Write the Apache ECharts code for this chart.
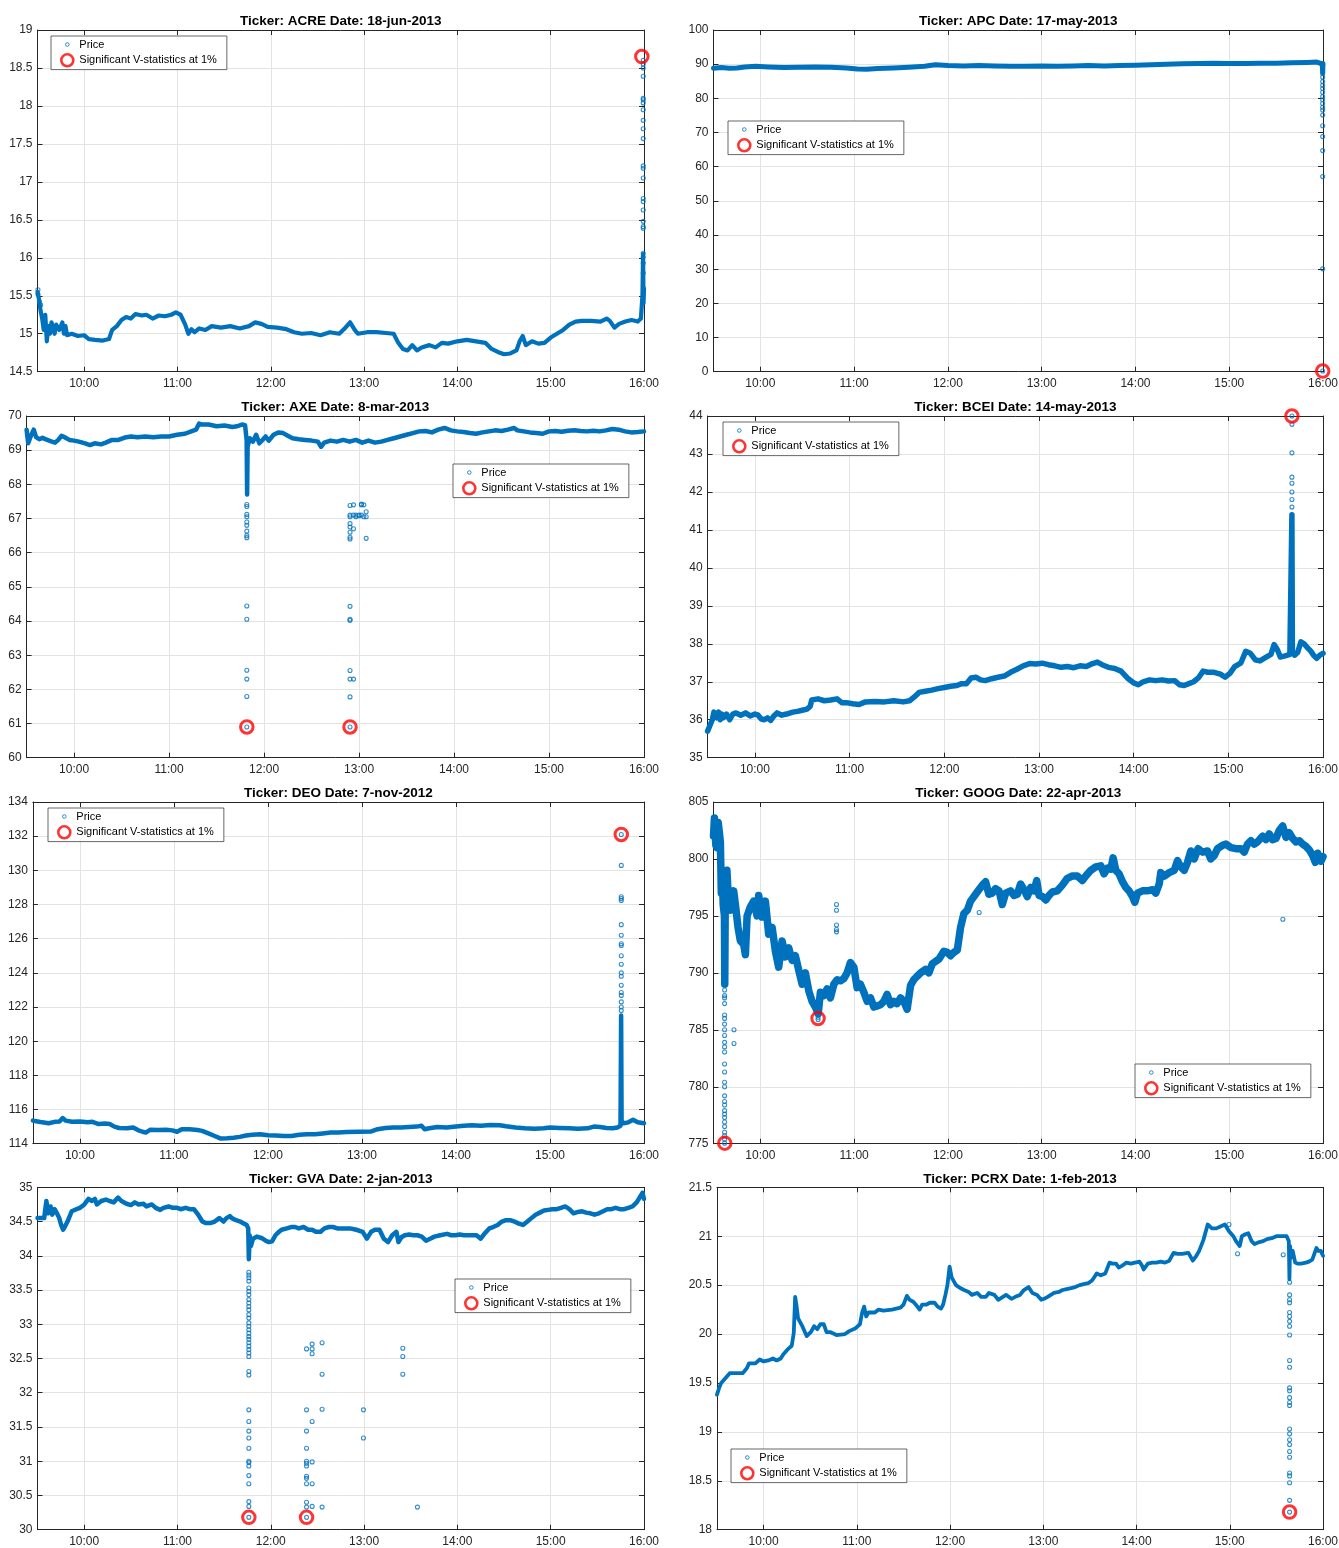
<!DOCTYPE html>
<html>
<head>
<meta charset="utf-8">
<script src="https://cdn.jsdelivr.net/npm/echarts@6/dist/echarts.min.js"></script>
<style>
html,body{margin:0;padding:0;background:#fff;}
#chart{width:1339px;height:1548px;}
</style>
</head>
<body>
<div id="chart"></div>
<script>
// ---------- tick labels (x = minutes after 09:30) ----------
const timeTicks = [30, 90, 150, 210, 270, 330, 390];
const timeTickLabels = ['10:00', '11:00', '12:00', '13:00', '14:00', '15:00', '16:00'];

// ---------- y-axis ranges [min, max, step] ----------
const acreYAxis = [14.5, 19, 0.5];
const apcYAxis = [0, 100, 10];
const axeYAxis = [60, 70, 1];
const bceiYAxis = [35, 44, 1];
const deoYAxis = [114, 134, 2];
const googYAxis = [775, 805, 5];
const gvaYAxis = [30, 35, 0.5];
const pcrxYAxis = [18, 21.5, 0.5];

// ---------- ACRE ----------
const acrePrice = [[0,15.55],[1,15.45],[2,15.3],[3,15.2],[4,15.05],[5,15.25],[6,14.9],[7,15.1],[8,15.0],[9,15.15],[11,15.0],[12,15.12],[14,15.05],[16,15.15],[17,15.0],[18,15.1],[19,14.98],[22,15.0],[26,14.97],[30,14.98],[33,14.93],[37,14.92],[42,14.91],[46,14.93],[48,15.05],[51,15.1],[54,15.18],[57,15.22],[60,15.2],[63,15.26],[67,15.24],[70,15.25],[74,15.2],[78,15.24],[82,15.23],[86,15.25],[89,15.28],[92,15.25],[95,15.12],[97,15.0],[99,15.06],[101,15.02],[104,15.07],[108,15.05],[112,15.1],[118,15.08],[124,15.1],[130,15.07],[136,15.1],[140,15.15],[144,15.13],[148,15.09],[154,15.08],[160,15.06],[165,15.02],[170,15.0],[176,15.01],[182,14.98],[188,15.02],[194,15.0],[198,15.08],[201,15.15],[204,15.05],[206,15.0],[212,15.02],[218,15.02],[224,15.01],[229,15.0],[232,14.88],[235,14.8],[238,14.78],[241,14.85],[244,14.78],[247,14.82],[252,14.85],[256,14.82],[260,14.88],[264,14.87],[270,14.9],[276,14.92],[282,14.9],[288,14.88],[292,14.8],[296,14.76],[300,14.73],[304,14.74],[308,14.78],[310,14.9],[312,14.97],[314,14.85],[318,14.9],[322,14.87],[326,14.88],[330,14.95],[334,15.0],[338,15.05],[342,15.12],[346,15.16],[350,15.17],[356,15.17],[362,15.16],[366,15.2],[368,15.17],[371,15.08],[374,15.13],[378,15.16],[382,15.18],[386,15.16],[388,15.2],[389,15.5],[389.4,16.05],[389.7,15.4],[390,15.6]];
const acreSpikes = [[389.5,[18.6,18.55,18.5,18.39,18.1,18.08,18.04,17.95,17.81,17.7,17.57,17.21,17.18,17.05,16.78,16.74,16.63,16.48,16.41,16.39,16.06,16.01,15.93,15.8]],[0.3,[15.58,15.52]],[1.2,[15.42]],[2,[15.38]]];
const acreSignif = [[388.6,18.65]];

// ---------- APC ----------
const apcPrice = [[0,88.8],[5,89.0],[10,88.8],[15,88.9],[20,89.2],[27,89.4],[35,89.2],[45,89.0],[55,89.1],[65,89.2],[75,89.1],[85,88.9],[92,88.6],[98,88.5],[105,88.7],[115,88.9],[125,89.1],[135,89.4],[142,89.8],[150,89.6],[160,89.5],[170,89.6],[180,89.5],[190,89.4],[200,89.4],[210,89.5],[220,89.4],[230,89.5],[240,89.6],[250,89.5],[260,89.6],[270,89.7],[280,89.8],[290,90.0],[300,90.1],[310,90.2],[320,90.3],[330,90.2],[340,90.2],[350,90.3],[360,90.3],[370,90.4],[380,90.5],[386,90.6],[388,90.3],[389.5,90.0],[389.8,87.5],[390,90.2]];
const apcSpikes = [[389.8,[87.3,86.2,84.9,83.8,82.9,81.8,80.5,79.6,78.5,77.4,76.6,75.1,72.0,68.8,64.7,57.1,30.1,0.2]]];
const apcSignif = [[389.8,0.2]];

// ---------- AXE ----------
const axePrice = [[0,69.6],[1,69.2],[3,69.45],[4.5,69.6],[6,69.38],[8,69.32],[10,69.36],[13,69.3],[16,69.25],[18,69.22],[20,69.3],[22,69.42],[24,69.38],[27,69.3],[30,69.28],[33,69.25],[37,69.2],[40,69.15],[43,69.2],[47,69.17],[50,69.22],[54,69.3],[58,69.3],[62,69.37],[66,69.4],[70,69.38],[75,69.4],[80,69.38],[85,69.4],[90,69.4],[95,69.45],[100,69.48],[104,69.55],[107,69.6],[109,69.78],[111,69.75],[115,69.75],[120,69.7],[125,69.72],[130,69.68],[133,69.7],[136,69.75],[138,69.73],[139,69.3],[139.3,67.7],[139.6,69.1],[141,69.35],[143,69.25],[145,69.45],[147,69.2],[149,69.3],[151,69.4],[153,69.28],[156,69.45],[159,69.52],[162,69.5],[165,69.42],[168,69.35],[172,69.32],[176,69.3],[180,69.28],[184,69.25],[186,69.1],[188,69.22],[192,69.28],[196,69.25],[200,69.3],[204,69.25],[208,69.3],[212,69.22],[216,69.28],[220,69.22],[224,69.25],[228,69.3],[232,69.35],[236,69.4],[240,69.45],[244,69.5],[248,69.55],[252,69.56],[256,69.52],[260,69.6],[264,69.65],[268,69.58],[272,69.55],[276,69.53],[280,69.5],[284,69.48],[288,69.52],[292,69.55],[296,69.58],[300,69.56],[304,69.6],[308,69.65],[310,69.58],[314,69.55],[318,69.52],[322,69.5],[326,69.48],[330,69.55],[334,69.56],[338,69.54],[342,69.57],[346,69.58],[350,69.56],[354,69.55],[358,69.57],[362,69.55],[366,69.58],[370,69.62],[374,69.6],[378,69.55],[382,69.52],[386,69.53],[390,69.55]];
const axeSpikes = [[139.1,[67.41,67.35,67.12,67.05,66.9,66.8,66.63,66.5,66.44,64.44,64.05,62.56,62.3,61.79,60.9]],[204.3,[67.38,67.1,67.05,66.85,66.75,66.6,66.45,66.4,64.43,64.05,64.02,62.55,62.3,61.78,60.9]],[206.5,[67.4,67.1,66.7,62.3]],[208,[67.05,67.1]],[210,[67.08,67.1]],[211.5,[67.4,67.42,67.1]],[213,[67.4,67.05]],[214.5,[67.2,67.05,66.42]]];
const axeSignif = [[139.1,60.9],[204.3,60.9]];

// ---------- BCEI ----------
const bceiPrice = [[0,35.7],[1,35.75],[2,35.9],[3,36.0],[4,36.2],[5,36.25],[6,36.05],[7,36.2],[8,36.0],[9,36.15],[10,36.05],[12,36.15],[14,36.0],[16,36.15],[18,36.18],[21,36.12],[24,36.18],[27,36.1],[30,36.15],[32,36.12],[34,36.02],[36,36.0],[38,36.05],[40,35.98],[42,36.1],[44,36.18],[47,36.12],[50,36.15],[54,36.2],[57,36.22],[60,36.25],[63,36.28],[65,36.35],[66,36.52],[70,36.55],[74,36.5],[78,36.52],[82,36.55],[85,36.45],[88,36.45],[92,36.42],[96,36.4],[100,36.47],[106,36.48],[112,36.47],[118,36.5],[124,36.47],[128,36.5],[131,36.6],[134,36.72],[138,36.75],[142,36.78],[146,36.82],[150,36.85],[154,36.88],[158,36.9],[161,36.95],[164,36.95],[167,37.1],[170,37.12],[173,37.05],[176,37.03],[180,37.08],[184,37.12],[188,37.15],[192,37.25],[196,37.33],[200,37.42],[204,37.48],[208,37.47],[212,37.49],[216,37.45],[220,37.42],[224,37.38],[228,37.4],[232,37.37],[236,37.42],[240,37.4],[244,37.48],[247,37.52],[250,37.45],[254,37.38],[258,37.35],[262,37.28],[266,37.1],[270,36.97],[273,36.92],[276,37.0],[280,37.05],[284,37.03],[288,37.05],[292,37.02],[296,37.03],[299,36.92],[302,36.9],[305,36.95],[308,37.0],[311,37.1],[314,37.28],[317,37.25],[321,37.25],[325,37.2],[328,37.12],[331,37.22],[334,37.4],[338,37.5],[341,37.8],[344,37.75],[347,37.58],[350,37.55],[354,37.65],[357,37.72],[359,37.98],[361,37.85],[363,37.65],[366,37.68],[369,37.72],[370,37.75],[370.3,41.4],[370.6,37.8],[372,37.7],[374,37.78],[376,38.05],[378,38.0],[380,37.9],[382,37.82],[384,37.7],[386,37.62],[388,37.7],[390,37.75]];
const bceiSpikes = [[370.3,[41.6,41.8,42.0,42.23,42.39,43.03,43.78,44.0]]];
const bceiSignif = [[370.3,44.0]];

// ---------- DEO ----------
const deoPrice = [[0,115.35],[3,115.3],[6,115.25],[10,115.2],[14,115.28],[17,115.3],[19,115.5],[21,115.35],[25,115.28],[30,115.3],[35,115.25],[38,115.28],[42,115.15],[46,115.18],[49,115.15],[52,115.0],[55,114.92],[60,114.9],[64,114.95],[67,114.8],[70,114.7],[72,114.65],[75,114.82],[80,114.8],[85,114.82],[89,114.78],[92,114.7],[95,114.85],[100,114.85],[105,114.8],[108,114.75],[112,114.6],[116,114.45],[120,114.3],[124,114.32],[128,114.35],[132,114.4],[136,114.48],[140,114.52],[145,114.55],[150,114.5],[155,114.48],[160,114.45],[165,114.45],[170,114.52],[175,114.55],[180,114.55],[185,114.6],[190,114.65],[195,114.65],[200,114.68],[208,114.7],[216,114.72],[220,114.85],[225,114.92],[230,114.95],[235,114.95],[240,114.98],[245,115.0],[248,115.05],[250,114.85],[253,114.9],[258,114.98],[264,114.95],[270,115.0],[275,115.05],[280,115.08],[286,115.05],[292,115.1],[298,115.08],[302,115.02],[308,114.95],[314,114.9],[320,114.88],[326,114.9],[330,114.95],[336,114.92],[342,114.9],[348,114.88],[354,114.9],[358,115.0],[362,114.98],[366,114.92],[370,114.9],[373,114.95],[375,115.05],[375.4,121.5],[375.7,115.3],[377,115.2],[380,115.25],[383,115.4],[386,115.25],[390,115.2]];
const deoSpikes = [[375.5,[121.8,122.0,122.3,122.68,122.85,123.27,123.8,124.0,124.5,125.0,125.6,125.7,126.2,126.82,128.24,128.35,128.45,130.29,132.1]]];
const deoSignif = [[375.5,132.1]];

// ---------- GOOG ----------
const googPrice = [[0,802],[0.6,803.6],[1.5,801.2],[2.2,801],[3,803.2],[3.6,802.5],[4.4,801.5],[5,797],[5.6,799],[6.2,796],[7,795],[7.2,789],[7.5,796],[8.6,799],[9.7,796],[10.8,795.5],[12.9,797.2],[14,796],[15.7,794],[17.2,792.8],[19.3,792.5],[20.4,791.6],[21.5,795],[23.6,795.8],[25.7,796.3],[27.9,795],[28.9,796.8],[31.1,794.9],[33.2,796.3],[35.3,793.4],[37.5,794],[39.6,791.9],[41.7,790.5],[43.9,792.8],[46,791.4],[48.1,792.2],[50.3,791.1],[52.4,791.5],[54.6,790.2],[56.7,789],[58.8,790],[61,788.4],[63.1,787.5],[65.2,787],[67,786.4],[68.4,788.3],[70.6,788],[72.7,788.6],[74.8,787.8],[77,789],[79.1,789.4],[81.2,789.3],[83.4,789.5],[85.5,790],[87.6,790.9],[89.8,790.5],[91.9,788.7],[94,789],[96.2,788.3],[98.3,787.5],[100.5,787.8],[102.6,787],[104.7,787.1],[106.9,787.2],[109,787.5],[111.1,788.1],[113.3,787.2],[115.4,787.5],[117.5,787.3],[119.7,787.8],[121.8,787.5],[123.9,786.8],[126.1,788.9],[128.2,789.4],[130.3,789.7],[132.5,790],[135.7,790.3],[137.8,790],[140,790.8],[144.2,791.2],[147.4,791.9],[149.6,791.8],[151.7,791.5],[153.8,791.8],[156,792],[158.1,794],[160.2,795.2],[162.4,795.5],[164.5,796.3],[167.7,796.9],[169.8,797.3],[172,797.7],[174.1,798],[176.2,796.9],[178.4,797],[180.5,797.4],[182.7,797.2],[184.8,796],[186.9,797],[190.1,797.2],[192.3,796.8],[194.4,796.9],[196.5,797.8],[198.7,797.3],[200.8,796.7],[203,797.5],[205.1,797.2],[206.8,798.1],[208.3,796.8],[210.4,796.7],[212.6,796.4],[214.7,796.8],[216.8,797.1],[220,797.2],[223.2,797.7],[226.4,798.3],[229.6,798.5],[232.8,798.5],[236,798.1],[238.2,798.5],[241.4,799],[244.6,799.3],[247.8,799.4],[249.9,798.7],[252.1,799.2],[254.2,799.1],[255.7,800.1],[257.4,799],[259.5,798.7],[261.7,798],[263.8,797.5],[265.9,797.2],[268.1,796.7],[269.6,796.2],[271.3,797],[274.5,797.2],[277.7,797.2],[280.9,797.3],[283,797],[285.2,797.8],[286.2,798.8],[288.4,798.5],[291.6,798.8],[294.8,799],[296.9,799.85],[299,799.3],[301.2,799],[303.3,799.7],[305.4,800.7],[307.6,800],[310.1,800.9],[312.9,800.6],[316.1,800.7],[318.2,800],[320.4,800.3],[322.5,800.9],[325.7,801.2],[327.9,801.3],[331.1,801],[334.3,800.9],[337.5,800.9],[339.6,800.6],[341.7,801.3],[343.9,801.6],[346,801.3],[348.1,801.5],[351.3,802],[353.5,801.7],[355.6,802.2],[357.7,801.7],[359.9,801.8],[362,802.5],[364.2,802.9],[366.3,801.9],[368.4,802.3],[370.6,801.8],[372.7,801.5],[374.8,801.6],[377,801.3],[379.1,801.1],[381.2,800.8],[383.4,800.3],[385.1,799.7],[386.6,800.5],[388.7,799.8],[390,800.2]];
const googSpikes = [[7.1,[788.5,788,787.8,787.3,786.3,786,785.5,785,784.5,783.9,783.5,783.05,782,781.3,780.4,780,779.2,778.7,778.4,777.9,777.6,777.3,776.9,776.5,776,775.7,775.4,775.05]],[13.1,[785,783.8]],[78.7,[796,795.5,794.2,793.8,793.6]],[364.3,[794.7]],[170,[795.3]],[66.9,[786.1,785.9]]];
const googSignif = [[7.2,775.05],[66.9,786.0]];

// ---------- GVA ----------
const gvaPrice = [[0,34.55],[1.6,34.55],[4.3,34.55],[5.7,34.8],[7,34.62],[8.4,34.72],[9.5,34.6],[11.1,34.68],[12.5,34.62],[14,34.55],[15.2,34.45],[16.5,34.38],[17.5,34.42],[19.3,34.5],[22,34.65],[25,34.68],[27.4,34.7],[30.1,34.75],[32.8,34.83],[35,34.8],[36.9,34.83],[38.2,34.75],[41,34.8],[44,34.82],[46.4,34.8],[49,34.78],[51.8,34.85],[54,34.8],[57.2,34.76],[60,34.74],[62.6,34.78],[65,34.75],[68.1,34.76],[70,34.72],[73.5,34.75],[76,34.7],[78.9,34.67],[81,34.7],[84.3,34.72],[87,34.7],[89.8,34.7],[92,34.68],[95.2,34.7],[98,34.68],[100.6,34.68],[103.3,34.6],[106,34.5],[108,34.48],[111.5,34.48],[114,34.5],[116.9,34.55],[119.6,34.5],[121.5,34.55],[123.7,34.58],[125,34.55],[127.7,34.52],[130.4,34.5],[132,34.48],[134.5,34.45],[135.5,34.4],[135.9,33.95],[136.4,34.3],[137.2,34.14],[138.6,34.25],[141,34.28],[144,34.26],[146.7,34.22],[148.8,34.2],[150.8,34.21],[153,34.3],[155.2,34.35],[157,34.38],[160.3,34.4],[163,34.42],[165.7,34.42],[168,34.4],[171.1,34.42],[174,34.38],[176.6,34.38],[179,34.35],[182,34.35],[184.5,34.4],[187.4,34.42],[190,34.42],[192.8,34.4],[196,34.4],[201,34.4],[205,34.38],[209.1,34.35],[211.8,34.25],[214.5,34.35],[217,34.38],[219.9,34.38],[222.7,34.25],[225.4,34.2],[228.1,34.3],[230.8,34.35],[232.1,34.2],[234,34.27],[236.2,34.3],[239,34.31],[241.6,34.3],[244.3,34.3],[247.1,34.28],[249.8,34.22],[252.5,34.25],[255.2,34.28],[259,34.3],[263.3,34.32],[266,34.3],[268.8,34.3],[271.5,34.31],[274.2,34.3],[278,34.3],[282.3,34.3],[285,34.25],[287.7,34.33],[290.5,34.4],[293,34.42],[295.9,34.45],[298.6,34.5],[301.3,34.52],[304,34.52],[306.7,34.5],[309.5,34.47],[312.2,34.45],[315,34.5],[317.6,34.55],[320.3,34.6],[323,34.63],[325.7,34.66],[328.4,34.67],[331,34.68],[333.9,34.68],[336.6,34.7],[339.3,34.72],[342,34.68],[344.7,34.62],[347.5,34.64],[350.2,34.65],[352.8,34.63],[355.5,34.62],[358.2,34.6],[361,34.62],[363.7,34.65],[366.4,34.68],[369,34.68],[371.8,34.7],[374.5,34.68],[377.2,34.68],[380,34.7],[382.6,34.72],[385.3,34.78],[388,34.88],[389,34.92],[390,34.83]];
const gvaSpikes = [[135.9,[33.76,33.72,33.68,33.63,33.53,33.48,33.43,33.36,33.31,33.26,33.21,33.14,33.09,33.02,32.97,32.92,32.87,32.82,32.78,32.73,32.68,32.63,32.58,32.53,32.31,32.26,31.75,31.58,31.44,31.34,31.19,31.0,30.98,30.93,30.79,30.67,30.41,30.34,30.18]],[173,[32.64,31.75,31.44,31.19,31.0,30.97,30.93,30.78,30.75,30.67,30.4,30.33,30.18]],[176.6,[32.71,32.64,32.57,31.58,30.99,30.67,30.34]],[183,[32.73,32.27,31.76,30.33]],[209.6,[31.75,31.34]],[234.9,[32.65,32.53,32.27]],[244.3,[30.33]]];
const gvaSignif = [[135.9,30.18],[173,30.18]];

// ---------- PCRX ----------
const pcrxPrice = [[0,19.38],[1.4,19.45],[2.7,19.5],[8.2,19.6],[13.7,19.6],[16.5,19.6],[19.2,19.65],[20.6,19.7],[24.7,19.7],[27.5,19.74],[30,19.72],[33,19.73],[36,19.75],[38.4,19.73],[41,19.75],[42.6,19.79],[45.3,19.84],[48.1,19.88],[49.4,20.01],[50.3,20.38],[51.1,20.3],[52.2,20.16],[54.9,20.08],[57.7,19.98],[60.4,20.02],[62.5,20.08],[64.5,20.05],[66.5,20.1],[68.7,20.1],[70.5,20.02],[72.8,20.02],[76.9,19.99],[82.4,20.0],[85.1,20.03],[89.2,20.06],[92,20.1],[93.4,20.22],[94.7,20.28],[96,20.18],[97.5,20.22],[101.6,20.22],[104,20.25],[107.1,20.24],[112.6,20.25],[118.1,20.27],[120,20.3],[122.2,20.39],[124,20.35],[126.3,20.33],[128,20.3],[130.4,20.25],[132,20.3],[134.6,20.3],[137,20.32],[140,20.32],[142,20.28],[144.2,20.26],[145.5,20.3],[147,20.4],[148.3,20.5],[149.7,20.69],[151,20.58],[153.8,20.5],[156.5,20.47],[159,20.45],[162,20.43],[164,20.4],[167.5,20.42],[170,20.38],[173,20.38],[175,20.42],[178.5,20.4],[181,20.35],[184,20.38],[186,20.4],[189.5,20.36],[192,20.38],[195,20.4],[197.5,20.45],[200.5,20.48],[203,20.42],[206,20.4],[208.7,20.35],[210.5,20.36],[212.8,20.38],[216.9,20.42],[220,20.43],[222.4,20.45],[225,20.46],[227.9,20.47],[230.5,20.48],[233.4,20.5],[236,20.51],[238.9,20.52],[241.5,20.55],[244.4,20.62],[247,20.6],[249.9,20.62],[252.6,20.73],[254.5,20.72],[256.8,20.72],[258.5,20.68],[260.9,20.7],[263.5,20.73],[266.4,20.72],[269,20.73],[271.9,20.74],[273.5,20.7],[274.6,20.66],[277.3,20.72],[280,20.73],[282.8,20.73],[285.5,20.74],[288.3,20.73],[291.1,20.75],[293.8,20.83],[296.5,20.82],[299.3,20.82],[303.4,20.83],[306.2,20.75],[308.5,20.8],[310.3,20.85],[313,20.96],[315.8,21.12],[318.5,21.08],[321.3,21.08],[324,21.1],[326.8,21.12],[329.5,21.05],[332.3,21.0],[334,20.95],[336.4,20.9],[337.8,21.0],[340,21.02],[341.9,21.03],[344,20.95],[346,20.92],[349,20.94],[351.5,20.95],[354,20.97],[357,20.98],[360,21.0],[362.5,21.0],[365,21.0],[366.6,21.0],[368,20.95],[368.4,20.56],[368.8,20.9],[369.4,20.78],[370.5,20.85],[372.1,20.73],[373.5,20.72],[376,20.72],[379,20.73],[381,20.74],[383.1,20.76],[385.8,20.88],[387,20.85],[388.6,20.85],[390,20.8]];
const pcrxSpikes = [[368.5,[20.53,20.4,20.35,20.32,20.22,20.18,20.13,20.08,19.99,19.73,19.66,19.45,19.42,19.35,19.3,19.27,19.03,18.98,18.92,18.87,18.8,18.74,18.58,18.55,18.48,18.3,18.18]],[364.4,[20.81]],[335,[20.82]],[329.5,[21.12]]];
const pcrxSignif = [[368.5,18.18]];

// ---------- layout & styling ----------
const FONT = "'Liberation Sans', Arial, Helvetica, sans-serif";
const BLUE = '#0072BD';
const RED = '#FF0000';
const AXIS = '#262626';
const GRIDC = '#e3e3e3';
const SIG = 'Significant V-statistics at 1%';
const PRICE_ICON = 'path://M0,0M14,14M5.2,7a1.8,1.8 0 1,0 3.6,0a1.8,1.8 0 1,0 -3.6,0';
const SIG_ICON = 'path://M0,0M14,14M1,7a6,6 0 1,0 12,0a6,6 0 1,0 -12,0';

const panels = [
  {title:'Ticker: ACRE Date: 18-jun-2013', price:acrePrice, spikes:acreSpikes, signif:acreSignif, y:acreYAxis, box:[37.5,30,606.5,341.7], legendAt:[51,36], titleTop:14.5, band:4.2},
  {title:'Ticker: APC Date: 17-may-2013', price:apcPrice, spikes:apcSpikes, signif:apcSignif, y:apcYAxis, box:[713.5,30,609.5,341.7], legendAt:[728,121], titleTop:14.5, band:5},
  {title:'Ticker: AXE Date: 8-mar-2013', price:axePrice, spikes:axeSpikes, signif:axeSignif, y:axeYAxis, box:[26.6,416,617.4,341.7], legendAt:[453,464], titleTop:400.5, band:4.5},
  {title:'Ticker: BCEI Date: 14-may-2013', price:bceiPrice, spikes:bceiSpikes, signif:bceiSignif, y:bceiYAxis, box:[707.6,416,615.4,341.7], legendAt:[723,422], titleTop:400.5, band:5.5},
  {title:'Ticker: DEO Date: 7-nov-2012', price:deoPrice, spikes:deoSpikes, signif:deoSignif, y:deoYAxis, box:[32.9,802,611.1,341.7], legendAt:[48,808], titleTop:786.5, band:4.5},
  {title:'Ticker: GOOG Date: 22-apr-2013', price:googPrice, spikes:googSpikes, signif:googSignif, y:googYAxis, box:[713.5,802,609.5,341.7], legendAt:[1135,1064], titleTop:786.5, band:7.5},
  {title:'Ticker: GVA Date: 2-jan-2013', price:gvaPrice, spikes:gvaSpikes, signif:gvaSignif, y:gvaYAxis, box:[37.5,1187.3,606.5,342.4], legendAt:[455,1279], titleTop:1172.5, band:4.5},
  {title:'Ticker: PCRX Date: 1-feb-2013', price:pcrxPrice, spikes:pcrxSpikes, signif:pcrxSignif, y:pcrxYAxis, box:[717,1187.3,606,342.4], legendAt:[731,1449], titleTop:1172.5, band:3.8}
];

function timeLabel(v) {
  const i = timeTicks.indexOf(Math.round(v));
  return i >= 0 ? timeTickLabels[i] : '';
}

const option = {
  animation: false,
  backgroundColor: '#fff',
  textStyle: {fontFamily: FONT},
  title: [], legend: [], grid: [], xAxis: [], yAxis: [], series: []
};
const spikeSeries = [], sigSeries = [], lineSeries = [];
const axisLineStyle = {color: AXIS, width: 1};

panels.forEach((p, i) => {
  const [l, t, w, h] = p.box;
  const [ymin, ymax, ystep] = p.y;
  option.grid.push({left: l, top: t, width: w, height: h, containLabel: false, outerBoundsMode: 'none', show: false});
  option.title.push({
    text: p.title, left: l + w / 2, top: p.titleTop, textAlign: 'center', padding: 0,
    textStyle: {fontSize: 13.5, fontWeight: 'bold', color: '#000', fontFamily: FONT}
  });
  option.xAxis.push({
    type: 'value', gridIndex: i, position: 'bottom', min: 0, max: 390,
    axisLine: {show: true, onZero: false, lineStyle: axisLineStyle},
    axisTick: {show: true, inside: true, length: 5, customValues: timeTicks, lineStyle: axisLineStyle},
    axisLabel: {show: true, customValues: timeTicks, formatter: timeLabel, color: AXIS, fontSize: 12, margin: 6, fontFamily: FONT},
    splitLine: {show: true, lineStyle: {color: GRIDC, width: 1}}
  });
  option.xAxis.push({
    type: 'value', gridIndex: i, position: 'top', min: 0, max: 390,
    axisLine: {show: true, onZero: false, lineStyle: axisLineStyle},
    axisTick: {show: true, inside: true, length: 5, customValues: timeTicks, lineStyle: axisLineStyle},
    axisLabel: {show: false}, splitLine: {show: false}
  });
  option.yAxis.push({
    type: 'value', gridIndex: i, position: 'left', min: ymin, max: ymax, interval: ystep,
    axisLine: {show: true, onZero: false, lineStyle: axisLineStyle},
    axisTick: {show: true, inside: true, length: 5, lineStyle: axisLineStyle},
    axisLabel: {show: true, color: AXIS, fontSize: 12, margin: 5, fontFamily: FONT},
    splitLine: {show: true, lineStyle: {color: GRIDC, width: 1}}
  });
  option.yAxis.push({
    type: 'value', gridIndex: i, position: 'right', min: ymin, max: ymax, interval: ystep,
    axisLine: {show: true, onZero: false, lineStyle: axisLineStyle},
    axisTick: {show: true, inside: true, length: 5, lineStyle: axisLineStyle},
    axisLabel: {show: false}, splitLine: {show: false}
  });
  option.legend.push({
    show: true, orient: 'vertical', left: p.legendAt[0], top: p.legendAt[1],
    padding: [1, 10, 1, 8], itemGap: 0, itemWidth: 14, itemHeight: 14, z: 10,
    backgroundColor: '#fff', borderColor: AXIS, borderWidth: 0.7, borderRadius: 0,
    selectedMode: false,
    textStyle: {fontSize: 11, lineHeight: 14, color: '#000', fontFamily: FONT},
    data: [
      {name: 'Price', icon: PRICE_ICON, itemStyle: {color: 'rgba(0,0,0,0)', borderColor: BLUE, borderWidth: 1}},
      {name: SIG, icon: SIG_ICON, itemStyle: {color: 'rgba(0,0,0,0)', borderColor: RED, borderWidth: 2.6}}
    ]
  });
  const xi = 2 * i, yi = 2 * i;
  spikeSeries.push({
    type: 'scatter', name: 'Price', xAxisIndex: xi, yAxisIndex: yi, z: 3,
    data: p.spikes.flatMap(([tm, vals]) => vals.map(v => [tm, v])),
    symbol: 'circle', symbolSize: 4,
    itemStyle: {color: 'rgba(0,0,0,0)', borderColor: BLUE, borderWidth: 1.1}
  });
  sigSeries.push({
    type: 'scatter', name: SIG, xAxisIndex: xi, yAxisIndex: yi, z: 4,
    data: p.signif, symbol: 'circle', symbolSize: 12.5,
    itemStyle: {color: 'rgba(0,0,0,0)', borderColor: RED, borderWidth: 3}
  });
  lineSeries.push({
    type: 'line', name: 'Price', xAxisIndex: xi, yAxisIndex: yi, z: 2,
    data: p.price, symbol: 'none', showSymbol: false,
    lineStyle: {color: BLUE, width: p.band, join: 'round', cap: 'round'},
    itemStyle: {color: BLUE}
  });
});
option.series = spikeSeries.concat(sigSeries, lineSeries);

const chart = echarts.init(document.getElementById('chart'), null, {renderer: 'canvas', width: 1339, height: 1548});
chart.setOption(option);
</script>
</body>
</html>
